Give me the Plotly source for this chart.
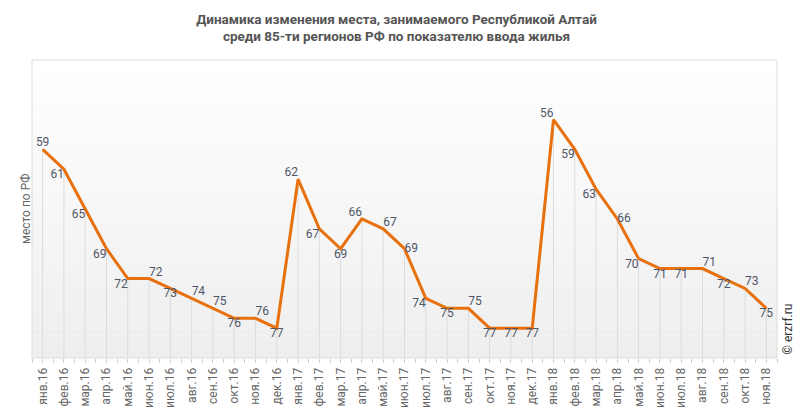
import plotly.graph_objects as go

months = ["янв.16","фев.16","мар.16","апр.16","май.16","июн.16","июл.16","авг.16","сен.16","окт.16","ноя.16","дек.16",
          "янв.17","фев.17","мар.17","апр.17","май.17","июн.17","июл.17","авг.17","сен.17","окт.17","ноя.17","дек.17",
          "янв.18","фев.18","мар.18","апр.18","май.18","июн.18","июл.18","авг.18","сен.18","окт.18","ноя.18"]
places = [59,61,65,69,72,72,73,74,75,76,76,77,
          62,67,69,66,67,69,74,75,75,77,77,77,
          56,59,63,66,70,71,71,71,72,73,75]
label_pos = ["top center","bottom left","bottom left","bottom left","bottom left","top right","bottom center","top right",
             "top right","bottom center","top right","bottom center",
             "top left","bottom left","bottom center","top left","top right","middle right","bottom left","bottom center",
             "top right","bottom center","bottom center","bottom center",
             "top left","bottom left","bottom left","middle right","bottom left","bottom center","bottom center","top right",
             "bottom center","top right","bottom center"]

Y_MIN, Y_MAX = 50, 80
xs = list(range(len(months)))

fig = go.Figure()

# drop lines
dx, dy = [], []
for i, v in zip(xs, places):
    dx += [i, i, None]
    dy += [v, Y_MAX, None]
fig.add_trace(go.Scatter(x=dx, y=dy, mode="lines", line=dict(color="#dcdcdc", width=1),
                         hoverinfo="skip", showlegend=False))

fig.add_trace(go.Scatter(x=xs, y=places, mode="lines+text", text=[str(v) for v in places],
                         textposition=label_pos, textfont=dict(family="Roboto", size=12, color="#4f5668"),
                         line=dict(color="#e8700e", width=3), showlegend=False, cliponaxis=False))

# gradient background
shapes = []
n = 40
for k in range(n):
    t = k / (n - 1)
    c = int(round(255 - t * (255 - 238)))
    shapes.append(dict(type="rect", xref="paper", yref="paper", x0=0, x1=1,
                       y0=1 - (k + 1) / n, y1=1 - k / n, fillcolor=f"rgb({c},{c},{c})",
                       line=dict(width=0), layer="below"))
shapes.append(dict(type="rect", xref="paper", yref="paper", x0=0, x1=1, y0=0, y1=1,
                   line=dict(color="#dddddd", width=1), layer="above"))

fig.update_layout(
    width=793, height=415,
    margin=dict(l=32, r=16, t=60, b=57),
    paper_bgcolor="white", plot_bgcolor="rgba(0,0,0,0)",
    shapes=shapes,
    title=dict(text="<b>Динамика изменения места, занимаемого Республикой Алтай<br>среди 85-ти регионов РФ по показателю ввода жилья</b>",
               x=0.5, xanchor="center", y=0.943, yanchor="top",
               font=dict(family="Roboto", size=13.5, color="#555555")),
    xaxis=dict(range=[-0.5, len(months) - 0.5], tickmode="array", tickvals=xs, ticktext=months,
               tickangle=-90, tickfont=dict(family="Roboto", size=12, color="#666666"),
               showgrid=False, zeroline=False, showline=False, automargin=False,
               ticks="outside", ticklen=4, tickcolor="#cccccc",
               minor=dict(tickmode="linear", tick0=-0.5, dtick=1, ticks="outside", ticklen=4, tickcolor="#cccccc")),
    yaxis=dict(range=[Y_MAX, Y_MIN], showticklabels=False, showgrid=False, zeroline=False, showline=False,
               automargin=False),
    annotations=[
        dict(text="место по РФ", xref="paper", yref="paper", x=0, xshift=3, y=0.5,
             xanchor="right", yanchor="middle", showarrow=False, textangle=-90,
             font=dict(family="Roboto", size=12, color="#666666")),
        dict(text="© erzrf.ru", xref="paper", yref="paper", x=1.0, xshift=1, y=0.0, yshift=1,
             yanchor="bottom", xanchor="left", showarrow=False, textangle=-90,
             font=dict(family="Roboto", size=12, color="#333333")),
    ],
)

fig.write_html("out.html", config={"displayModeBar": False},
               post_script="document.body.style.margin='0';document.documentElement.style.overflow='hidden';")
